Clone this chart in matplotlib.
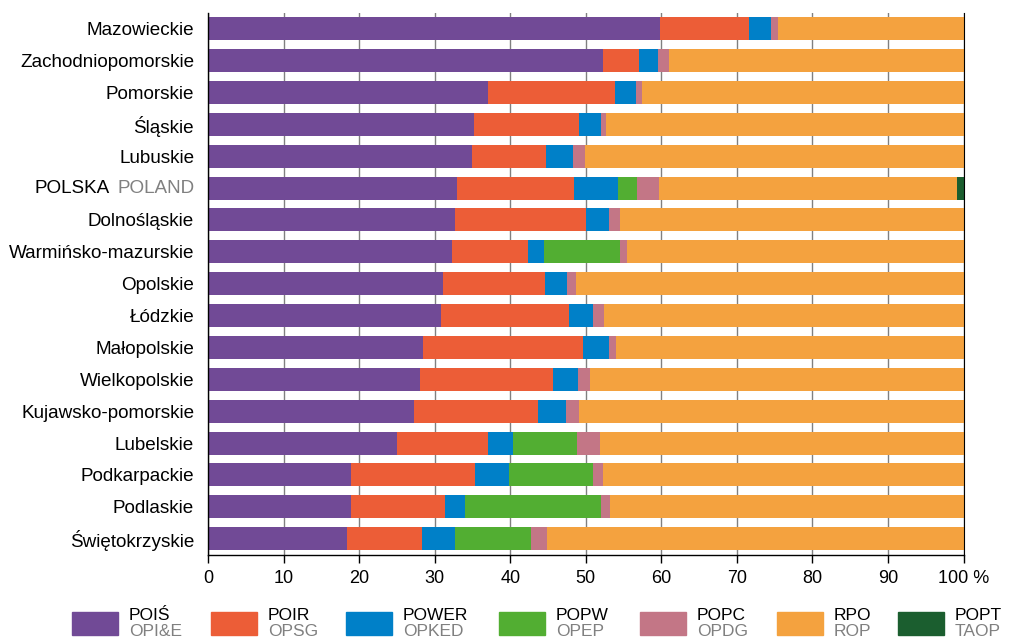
import matplotlib
matplotlib.use("Agg")
import matplotlib.pyplot as plt
from matplotlib.patches import Rectangle

plt.rcParams['font.family'] = ['Liberation Sans', 'DejaVu Sans']

regions = ["Mazowieckie", "Zachodniopomorskie", "Pomorskie", "Śląskie", "Lubuskie",
           "POLSKA", "Dolnośląskie", "Warmińsko-mazurskie", "Opolskie", "Łódzkie",
           "Małopolskie", "Wielkopolskie", "Kujawsko-pomorskie", "Lubelskie",
           "Podkarpackie", "Podlaskie", "Świętokrzyskie"]

# shares (%) per programme
POIS  = [59.8, 52.3, 37.0, 35.2, 34.9, 32.9, 32.7, 32.3, 31.1, 30.8, 28.4, 28.1, 27.2, 25.0, 18.9, 18.9, 18.4]
POIR  = [11.8, 4.8, 16.9, 13.9, 9.8, 15.6, 17.3, 10.1, 13.5, 17.0, 21.2, 17.6, 16.5, 12.0, 16.4, 12.4, 9.9]
POWER = [2.9, 2.4, 2.8, 2.9, 3.6, 5.8, 3.1, 2.1, 2.9, 3.1, 3.5, 3.3, 3.7, 3.4, 4.5, 2.7, 4.4]
POPW  = [0, 0, 0, 0, 0, 2.5, 0, 10.0, 0, 0, 0, 0, 0, 8.5, 11.2, 18.0, 10.1]
POPC  = [1.0, 1.5, 0.8, 0.7, 1.6, 2.9, 1.4, 1.0, 1.2, 1.5, 0.9, 1.6, 1.7, 3.0, 1.3, 1.2, 2.1]
POPT  = [0, 0, 0, 0, 0, 0.9, 0, 0, 0, 0, 0, 0, 0, 0, 0, 0, 0]
RPO   = [round(100 - a - b - c - d - e - f, 1) for a, b, c, d, e, f in zip(POIS, POIR, POWER, POPW, POPC, POPT)]

series_pl = ["POIŚ", "POIR", "POWER", "POPW", "POPC", "RPO", "POPT"]
series_en = ["OPI&E", "OPSG", "OPKED", "OPEP", "OPDG", "ROP", "TAOP"]
series_vals = [POIS, POIR, POWER, POPW, POPC, RPO, POPT]
colors = ["#714A96", "#EC5D37", "#0080C8", "#52AE32", "#C37686", "#F4A23F", "#1B5E2F"]

xticks = [0, 10, 20, 30, 40, 50, 60, 70, 80, 90, 100]
xticklabels = ["0", "10", "20", "30", "40", "50", "60", "70", "80", "90", "100 %"]

LBL = 13.6

fig = plt.figure(figsize=(10.10, 6.39), dpi=100)
ax = fig.add_axes([0.206, 0.132, 0.748, 0.848])

ypos = list(range(len(regions)))
left = [0.0] * len(regions)
for vals, col in zip(series_vals, colors):
    ax.barh(ypos, vals, left=left, height=0.72, color=col, zorder=2, linewidth=0)
    left = [l + v for l, v in zip(left, vals)]

ax.set_ylim(len(regions) - 0.5, -0.5)
ax.set_xlim(0, 100)
ax.set_xticks(xticks)
ax.set_xticklabels(xticklabels, fontsize=13)
ax.set_yticks(ypos)
labels = [r if r != "POLSKA" else "" for r in regions]
ax.set_yticklabels(labels, fontsize=LBL)
ax.tick_params(axis='y', length=0, pad=10)
ax.tick_params(axis='x', length=6, width=1, direction='out', pad=5)
ax.xaxis.grid(True, color="#808080", linewidth=1.0, zorder=1)
ax.set_axisbelow(True)
ax.spines['top'].set_visible(False)
ax.spines['right'].set_color('black')
ax.spines['left'].set_linewidth(1.0)
ax.spines['bottom'].set_linewidth(1.0)

# POLSKA POLAND label
ip = regions.index("POLSKA")
t_en = ax.annotate("POLAND", xy=(0, ip), xycoords=ax.get_yaxis_transform(),
                   xytext=(-10, 0), textcoords='offset points',
                   ha='right', va='center', fontsize=LBL, color="#808080")
ax.annotate("POLSKA", xy=(0, 0.5), xycoords=t_en, xytext=(-5, 0),
            textcoords='offset points', ha='right', va='center', fontsize=LBL, color='black')

# Legend
W, H = 1010.0, 639.0
leg_x = [72, 211, 346, 499, 640, 777, 898]
for x0, col, pl, en in zip(leg_x, colors, series_pl, series_en):
    fig.patches.append(Rectangle((x0 / W, (H - 635) / H), 46 / W, 23 / H,
                                 transform=fig.transFigure, color=col, figure=fig))
    fig.text((x0 + 57) / W, (H - 616) / H, pl, fontsize=12.5, color='black',
             ha='left', va='center')
    fig.text((x0 + 57) / W, (H - 631) / H, en, fontsize=12.5, color='#808080',
             ha='left', va='center')

fig.savefig("out.png", dpi=100)
